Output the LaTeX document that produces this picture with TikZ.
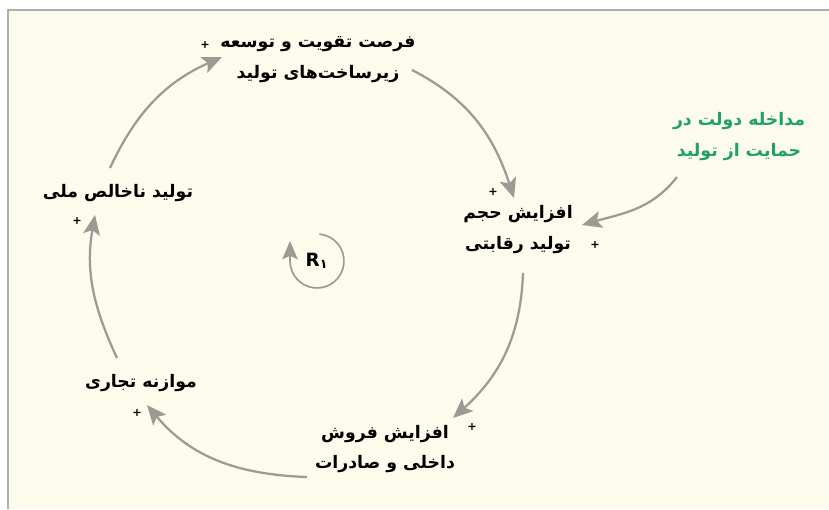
\documentclass[tikz,border=0pt]{standalone}
\usepackage{fontspec}
\setmainfont{DejaVu Sans}
\newfontfamily\farsi[Script=Arabic]{DejaVu Sans}
\TeXXeTstate=1
\usetikzlibrary{arrows.meta}
\definecolor{cdbg}{RGB}{253,251,236}
\definecolor{cdframe}{RGB}{175,175,175}
\definecolor{cdarrow}{RGB}{155,155,148}
\definecolor{cdgreen}{RGB}{34,160,106}
\newcommand{\fatxt}[1]{\beginR #1\endR}

\tikzset{
  var/.style={font=\farsi\bfseries\fontsize{12.3}{22}\selectfont, align=center, inner sep=2pt},
  ext/.style={var, text=cdgreen},
  sgn/.style={font=\bfseries\fontsize{8}{8}\selectfont, inner sep=0pt},
  flow/.style={draw=cdarrow, line width=1.6pt, -{Stealth[length=14pt,width=12pt,inset=3pt]}},
  loopmark/.style={draw=cdarrow, line width=1.2pt, -{Stealth[length=13pt,width=11pt,inset=2.5pt]}},
}

\begin{document}
\begin{tikzpicture}[x=0.025cm, y=0.025cm]

  % --- frame ---
  \useasboundingbox (0,0) rectangle (829,-509);
  \fill[white] (0,0) rectangle (829,-509);
  \fill[cdbg] (8,-10) rectangle (829,-509);
  \draw[cdframe, line width=0.8pt] (8,-509) |- (829,-10);

  % --- variables ---
  \node[var] (top) at (318,-60)
    {\fatxt{فرصت تقویت و توسعه}\\\fatxt{زیرساخت‌های تولید}};
  \node[var] (prod) at (518,-230)
    {\fatxt{افزایش حجم}\\\fatxt{تولید رقابتی}};
  \node[ext] (gov) at (739,-137)
    {\fatxt{مداخله دولت در}\\\fatxt{حمایت از تولید}};
  \node[var] (sales) at (385,-449)
    {\fatxt{افزایش فروش}\\\fatxt{داخلی و صادرات}};
  \node[var] (trade) at (141,-383) {\fatxt{موازنه تجاری}};
  \node[var] (gnp) at (118,-193) {\fatxt{تولید ناخالص ملی}};
  \node[font=\bfseries\fontsize{13}{13}\selectfont] (r1) at (317,-261)
    {R\textsubscript{\farsi ۱}};

  % --- polarity signs ---
  \node[sgn] (s1) at (205,-45) {+};
  \node[sgn] (s2) at (493,-192) {+};
  \node[sgn] (s3) at (595,-245) {+};
  \node[sgn] (s4) at (472,-427) {+};
  \node[sgn] (s5) at (137,-413) {+};
  \node[sgn] (s6) at (77,-221) {+};

  % --- causal links ---
  \draw[flow] ([shift={(94,-10)}]top.center) to[out=-27,in=108]
    ([shift={(-4,32)}]prod.center);
  \draw[flow] ([shift={(-62,-40)}]gov.center) to[out=-128,in=16]
    ([shift={(64,5)}]prod.center);
  \draw[flow] ([shift={(5,-43)}]prod.center) to[out=-92,in=42]
    ([shift={(68,31)}]sales.center);
  \draw[flow] ([shift={(-78,-28)}]sales.center) to[out=178,in=-50]
    ([shift={(6,-22)}]trade.center);
  \draw[flow] ([shift={(-24,25)}]trade.center) to[out=115,in=-100]
    ([shift={(-23,-22)}]gnp.center);
  \draw[flow] ([shift={(-8,25)}]gnp.center) to[out=65,in=-156]
    ([shift={(-96,3)}]top.center);

  % --- loop marker ---
  \draw[loopmark] ([shift={(85:27)}]r1.center)
    arc[start angle=85, end angle=-180, radius=27] -- ++(0,20);

\end{tikzpicture}
\end{document}
